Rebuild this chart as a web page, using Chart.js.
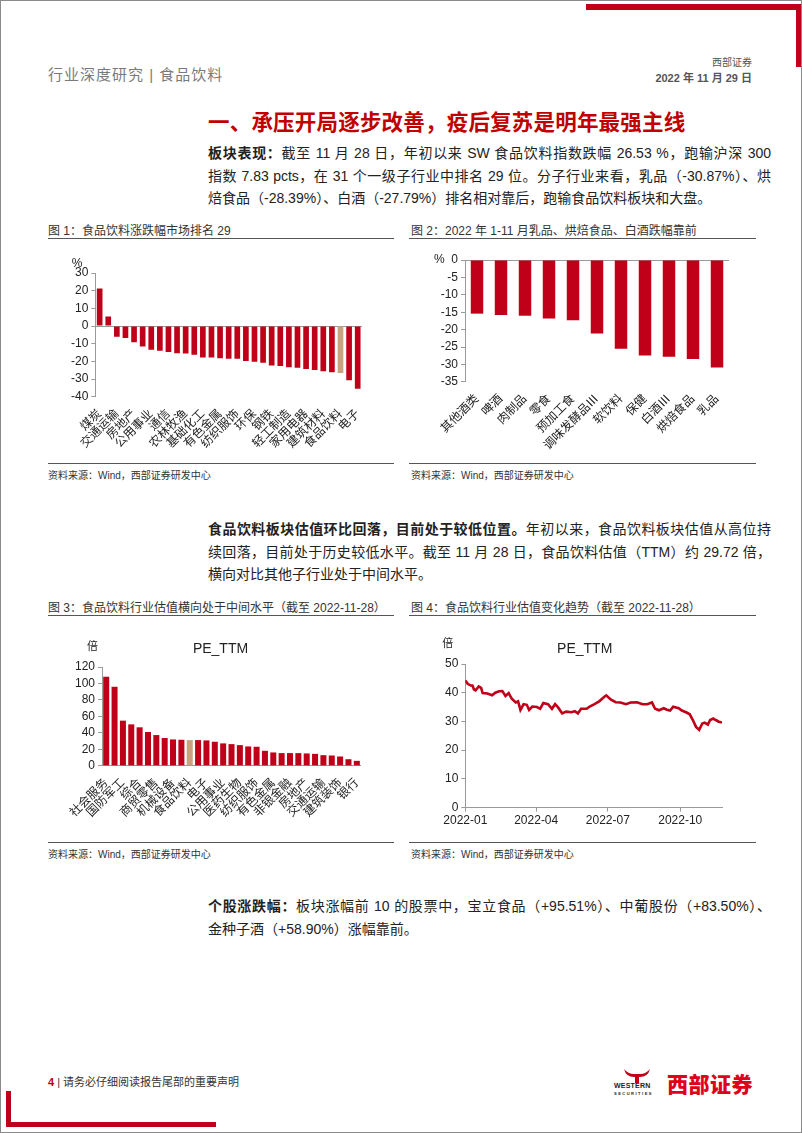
<!DOCTYPE html>
<html lang="zh">
<head>
<meta charset="UTF-8">
<title>食品饮料 行业深度研究</title>
<script src="https://cdn.jsdelivr.net/npm/chart.js"></script>
<style>
    html, body { margin: 0; padding: 0; background: #fff; }
    body {
        font-family: 'Liberation Sans', 'Noto Sans CJK SC', sans-serif;
        color: #222;
    }
    .page {
        position: relative;
        width: 802px;
        height: 1133px;
        box-sizing: border-box;
        border: 1px solid #8a8a8a;
        overflow: hidden;
    }
    .abs { position: absolute; }
    .redbar { position: absolute; background: #c00018; }
    .head-left { left: 47px; top: 62px; font-size: 15px; color: #7a7a7a; letter-spacing: 1px; }
    .head-firm { right: 49px; top: 53px; font-size: 10px; color: #555; }
    .head-date { right: 49px; top: 68px; font-size: 11px; color: #555; font-weight: bold; }
    .title { left: 207px; top: 104px; font-size: 21.5px; font-weight: bold; color: #c00000; letter-spacing: 0.2px; }
    .para { left: 207px; width: 563px; font-size: 14px; color: #222; }
    .para div { height: 22.5px; line-height: 22.5px; white-space: nowrap; }
    .para .j { text-align: justify; text-align-last: justify; white-space: normal; overflow: hidden; }
    .para b { font-weight: bold; }
    .cap { font-size: 12px; color: #333; }
    .rule { position: absolute; height: 1px; background: #555; }
    .src { font-size: 10px; color: #333; }
    .chart { position: absolute; }
    .foot { left: 47px; top: 1072px; font-size: 11px; color: #333; }
    .foot .pg { color: #c00000; font-weight: bold; }
    .logo { left: 613px; top: 1066px; width: 145px; height: 30px; }
    .logo .en { position: absolute; left: 0; top: 15px; font-size: 7px; font-weight: bold; color: #222; letter-spacing: 0.2px; }
    .logo .cn { position: absolute; left: 53px; top: 1px; font-size: 21px; font-weight: 900; color: #e0001b; letter-spacing: 0.5px; }
</style>
</head>
<body>
<div class="page">
    <div class="redbar" style="left:585px; top:3px; width:215px; height:6px;"></div>
    <div class="redbar" style="left:795px; top:3px; width:5px; height:63px;"></div>
    <div class="redbar" style="left:5px; top:1090px; width:5px; height:36px;"></div>
    <div class="redbar" style="left:5px; top:1121px; width:210px; height:5px;"></div>

    <div class="abs head-left">行业深度研究 | 食品饮料</div>
    <div class="abs head-firm">西部证券</div>
    <div class="abs head-date">2022 年 11 月 29 日</div>

    <div class="abs title">一、承压开局逐步改善，疫后复苏是明年最强主线</div>

    <div class="abs para" style="top:141px;">
        <div class="j"><b>板块表现：</b>截至 11 月 28 日，年初以来 SW 食品饮料指数跌幅 26.53 %，跑输沪深 300</div>
        <div class="j">指数 7.83 pcts，在 31 个一级子行业中排名 29 位。分子行业来看，乳品（-30.87%）、烘</div>
        <div>焙食品（-28.39%）、白酒（-27.79%）排名相对靠后，跑输食品饮料板块和大盘。</div>
    </div>

    <div class="abs cap" style="left:47px; top:220px;">图 1：食品饮料涨跌幅市场排名 29</div>
    <div class="abs cap" style="left:410px; top:220px;">图 2：2022 年 1-11 月乳品、烘焙食品、白酒跌幅靠前</div>
    <div class="rule" style="left:47px; top:237px; width:346px;"></div>
    <div class="rule" style="left:408px; top:237px; width:347px;"></div>

    <div class="chart" style="left:47px; top:245px; width:346px; height:207px;"><canvas id="c1"></canvas></div>
    <div class="chart" style="left:408px; top:245px; width:347px; height:209px;"><canvas id="c2"></canvas></div>

    <div class="rule" style="left:47px; top:462px; width:346px;"></div>
    <div class="rule" style="left:408px; top:462px; width:347px;"></div>
    <div class="abs src" style="left:47px; top:466px;">资料来源：Wind，西部证券研发中心</div>
    <div class="abs src" style="left:410px; top:466px;">资料来源：Wind，西部证券研发中心</div>

    <div class="abs para" style="top:517px;">
        <div class="j"><b>食品饮料板块估值环比回落，目前处于较低位置。</b>年初以来，食品饮料板块估值从高位持</div>
        <div class="j">续回落，目前处于历史较低水平。截至 11 月 28 日，食品饮料估值（TTM）约 29.72 倍，</div>
        <div>横向对比其他子行业处于中间水平。</div>
    </div>

    <div class="abs cap" style="left:47px; top:597px;">图 3：食品饮料行业估值横向处于中间水平（截至 2022-11-28）</div>
    <div class="abs cap" style="left:410px; top:597px;">图 4：食品饮料行业估值变化趋势（截至 2022-11-28）</div>
    <div class="rule" style="left:47px; top:614px; width:346px;"></div>
    <div class="rule" style="left:408px; top:614px; width:347px;"></div>

    <div class="chart" style="left:47px; top:628px; width:346px; height:193px;"><canvas id="c3"></canvas></div>
    <div class="chart" style="left:408px; top:628px; width:347px; height:201px;"><canvas id="c4"></canvas></div>

    <div class="rule" style="left:47px; top:841px; width:346px;"></div>
    <div class="rule" style="left:408px; top:841px; width:347px;"></div>
    <div class="abs src" style="left:47px; top:845px;">资料来源：Wind，西部证券研发中心</div>
    <div class="abs src" style="left:410px; top:845px;">资料来源：Wind，西部证券研发中心</div>

    <div class="abs para" style="top:894px;">
        <div class="j"><b>个股涨跌幅：</b>板块涨幅前 10 的股票中，宝立食品（+95.51%）、中葡股份（+83.50%）、</div>
        <div>金种子酒（+58.90%）涨幅靠前。</div>
    </div>

    <div class="abs foot"><span class="pg">4</span> | 请务必仔细阅读报告尾部的重要声明</div>
    <div class="abs logo">
        <svg class="abs" style="left:8px; top:0px;" width="30" height="16" viewBox="0 0 30 16">
            <path d="M2 2 Q4 10 12 10 L18 10 Q26 10 28 2 Q24 7 18 7 L12 7 Q6 7 2 2 Z" fill="#c00018"/>
            <rect x="13" y="9" width="4" height="7" fill="#c00018"/>
        </svg>
        <div class="en">WESTERN<br><span style="font-size:4px; letter-spacing:1.5px;">SECURITIES</span></div>
        <div class="cn">西部证券</div>
    </div>
</div>

<script>
    // 图1: SW 一级行业 2022 年初至 11-28 涨跌幅 (%)
    const rankIndustries = ['煤炭', '综合', '交通运输', '商贸零售', '房地产', '石油石化', '公用事业', '银行',
        '通信', '国防军工', '农林牧渔', '非银金融', '基础化工', '汽车', '有色金属', '建筑装饰',
        '纺织服饰', '美容护理', '环保', '医药生物', '钢铁', '机械设备', '轻工制造', '电力设备',
        '家用电器', '社会服务', '建筑材料', '传媒', '食品饮料', '计算机', '电子'];
    const rankChange = [21.3, 5.4, -6.0, -6.8, -9.1, -11.6, -13.3, -13.9,
        -14.7, -15.3, -15.5, -16.2, -17.8, -17.8, -18.2, -18.4,
        -18.4, -19.7, -20.1, -20.7, -22.2, -22.6, -23.2, -23.6,
        -24.2, -24.8, -25.5, -26.1, -26.53, -30.6, -35.4];

    // 图2: 食品饮料三级子行业 2022 年 1-11 月涨跌幅 (%)
    const subIndustries = ['其他酒类', '啤酒', '肉制品', '零食', '预加工食', '调味发酵品Ⅲ', '软饮料', '保健', '白酒Ⅲ', '烘焙食品', '乳品'];
    const subChange = [-15.4, -15.8, -16.0, -16.8, -17.3, -21.1, -25.5, -27.4, -27.79, -28.39, -30.87];

    // 图3: 一级行业 PE_TTM (倍)
    const peIndustries = ['社会服务', '计算机', '国防军工', '传媒', '综合', '美容护理', '商贸零售', '电力设备',
        '机械设备', '汽车', '食品饮料', '轻工制造', '电子', '农林牧渔', '公用事业', '通信',
        '医药生物', '家用电器', '纺织服饰', '环保', '有色金属', '基础化工', '非银金融', '建筑材料',
        '房地产', '钢铁', '交通运输', '石油石化', '建筑装饰', '煤炭', '银行'];
    const peValues = [108.2, 96.0, 54.9, 50.4, 46.8, 41.1, 37.4, 33.8,
        32.1, 31.7, 31.3, 31.3, 30.9, 29.3, 27.3, 26.4,
        25.2, 23.6, 23.2, 18.3, 16.3, 15.5, 15.5, 15.5,
        15.1, 14.6, 13.0, 12.6, 11.4, 8.1, 6.1];

    // 图4: 食品饮料 PE_TTM 走势, 横轴为 2022-01-01 起的天数
    const trendDays = [0, 3, 7, 9, 11, 13, 17, 20, 22, 28, 34, 38, 43, 47, 51, 55, 59, 64, 67, 70,
        74, 78, 81, 85, 91, 95, 99, 105, 110, 114, 118, 123, 128, 135, 139, 143, 147, 154, 158, 164,
        170, 177, 179, 185, 191, 197, 204, 210, 218, 225, 231, 237, 241, 246, 252, 256, 260, 264, 271, 275,
        281, 285, 289, 293, 297, 301, 304, 308, 311, 315, 318, 322, 326];
    const trendPE = [44.3, 43.1, 42.5, 42.5, 41.1, 40.8, 42.2, 41.7, 39.9, 39.7, 39.1, 40.0, 40.5, 40.6, 38.9, 39.9, 37.9, 36.6, 37.0, 34.0,
        36.0, 35.8, 34.0, 35.2, 35.0, 34.4, 36.4, 36.0, 34.4, 36.0, 34.8, 32.8, 33.4, 33.2, 33.6, 32.8, 34.4, 34.4, 35.2, 36.0,
        37.0, 38.7, 39.1, 37.6, 36.7, 36.6, 36.0, 36.6, 36.7, 36.0, 36.0, 36.6, 34.4, 33.9, 34.6, 34.1, 33.8, 35.1, 34.6, 33.8,
        33.1, 32.5, 30.5, 28.1, 27.1, 29.3, 29.6, 28.9, 30.5, 31.0, 30.5, 29.9, 29.6];
    const trendTickDays = [0, 90, 181, 273];
    const trendTickNames = ['2022-01', '2022-04', '2022-07', '2022-10'];

    const red = '#c00018';
    const tan = '#c9a27e';
    const axisGrey = '#9a9a9a';

    Chart.defaults.font.family = "'Liberation Sans', 'Noto Sans CJK SC', sans-serif";
    Chart.defaults.color = '#222';
    Chart.defaults.animation = false;

    // unit text ("%" / "倍") and the small "PE_TTM" heading, placed relative to the plot area
    const chartNotes = {
        id: 'chartNotes',
        afterDraw(chart, args, opts) {
            if (!opts) return;
            const { ctx, chartArea } = chart;
            ctx.save();
            ctx.fillStyle = '#222';
            ctx.textBaseline = 'middle';
            if (opts.unit) {
                ctx.font = opts.unitFont || "12px 'Liberation Sans', 'Noto Sans CJK SC'";
                ctx.textAlign = 'right';
                ctx.fillText(opts.unit, chartArea.left + opts.unitDx, chartArea.top + opts.unitDy);
            }
            if (opts.title) {
                ctx.font = "14px 'Liberation Sans'";
                ctx.textAlign = 'center';
                ctx.fillText(opts.title, (chartArea.left + chartArea.right) / 2 + opts.titleDx, chartArea.top + opts.titleDy);
            }
            ctx.restore();
        }
    };
    Chart.register(chartNotes);

    const zeroGrid = {
        color: (c) => c.tick.value === 0 ? axisGrey : 'rgba(0,0,0,0)',
        tickColor: axisGrey,
        tickLength: 4
    };

    const catAxis = (names, everyOther) => ({
        grid: { display: false },
        border: { display: false },
        ticks: {
            autoSkip: false,
            maxRotation: 45,
            minRotation: 45,
            padding: 2,
            font: { size: 12 },
            callback: (v, i) => (!everyOther || i % 2 === 0) ? names[i] : ''
        }
    });

    const valueTicks = (step, extra) => Object.assign({ stepSize: step, autoSkip: false, font: { size: 12 }, padding: 3 }, extra || {});

    // 图1
    new Chart(document.getElementById('c1'), {
        type: 'bar',
        data: {
            labels: rankIndustries,
            datasets: [{
                data: rankChange,
                backgroundColor: rankIndustries.map(n => n === '食品饮料' ? tan : red),
                categoryPercentage: 1,
                barPercentage: 0.66
            }]
        },
        options: {
            responsive: true,
            maintainAspectRatio: false,
            layout: { padding: { top: 27, right: 32, left: 20, bottom: 0 } },
            plugins: {
                legend: { display: false },
                tooltip: { enabled: false },
                chartNotes: { unit: '%', unitDx: -13, unitDy: -9 }
            },
            scales: {
                x: catAxis(rankIndustries, true),
                y: {
                    min: -40, max: 30,
                    ticks: valueTicks(10),
                    grid: zeroGrid,
                    border: { color: axisGrey }
                }
            }
        }
    });

    // 图2
    new Chart(document.getElementById('c2'), {
        type: 'bar',
        data: {
            labels: subIndustries,
            datasets: [{
                data: subChange,
                backgroundColor: red,
                categoryPercentage: 1,
                barPercentage: 0.52
            }]
        },
        options: {
            responsive: true,
            maintainAspectRatio: false,
            layout: { padding: { top: 14, right: 27, left: 22, bottom: 0 } },
            plugins: {
                legend: { display: false },
                tooltip: { enabled: false }
            },
            scales: {
                x: catAxis(subIndustries, false),
                y: {
                    min: -35, max: 0,
                    ticks: valueTicks(5, { callback: (v) => v === 0 ? '%  0' : v }),
                    grid: zeroGrid,
                    border: { color: axisGrey }
                }
            }
        }
    });

    // 图3
    new Chart(document.getElementById('c3'), {
        type: 'bar',
        data: {
            labels: peIndustries,
            datasets: [{
                data: peValues,
                backgroundColor: peIndustries.map(n => n === '食品饮料' ? tan : red),
                categoryPercentage: 1,
                barPercentage: 0.72
            }]
        },
        options: {
            responsive: true,
            maintainAspectRatio: false,
            layout: { padding: { top: 38, right: 33, left: 24, bottom: 0 } },
            plugins: {
                legend: { display: false },
                tooltip: { enabled: false },
                chartNotes: { unit: '倍', unitDx: -4, unitDy: -21, unitFont: "11px 'Noto Sans CJK SC'", title: 'PE_TTM', titleDx: -11, titleDy: -18 }
            },
            scales: {
                x: catAxis(peIndustries, true),
                y: {
                    min: 0, max: 120,
                    ticks: valueTicks(20),
                    grid: zeroGrid,
                    border: { color: axisGrey }
                }
            }
        }
    });

    // 图4
    new Chart(document.getElementById('c4'), {
        type: 'line',
        data: {
            datasets: [{
                data: trendDays.map((d, i) => ({ x: d, y: trendPE[i] })),
                borderColor: red,
                borderWidth: 2.6,
                pointRadius: 0,
                tension: 0
            }]
        },
        options: {
            responsive: true,
            maintainAspectRatio: false,
            layout: { padding: { top: 35, right: 34, left: 33, bottom: 0 } },
            plugins: {
                legend: { display: false },
                tooltip: { enabled: false },
                chartNotes: { unit: '倍', unitDx: -12, unitDy: -21, unitFont: "11px 'Noto Sans CJK SC'", title: 'PE_TTM', titleDx: -9, titleDy: -15 }
            },
            scales: {
                x: {
                    type: 'linear',
                    min: 0, max: 326,
                    afterBuildTicks: (s) => { s.ticks = trendTickDays.map(v => ({ value: v })); },
                    ticks: {
                        font: { size: 12 },
                        maxRotation: 0,
                        autoSkip: false,
                        padding: 2,
                        callback: (v) => trendTickNames[trendTickDays.indexOf(v)]
                    },
                    grid: { drawOnChartArea: false, color: axisGrey, tickLength: 4 },
                    border: { color: axisGrey }
                },
                y: {
                    min: 0, max: 50,
                    ticks: valueTicks(10),
                    grid: { drawOnChartArea: false, color: axisGrey, tickLength: 4 },
                    border: { color: axisGrey }
                }
            }
        }
    });
</script>
</body>
</html>
